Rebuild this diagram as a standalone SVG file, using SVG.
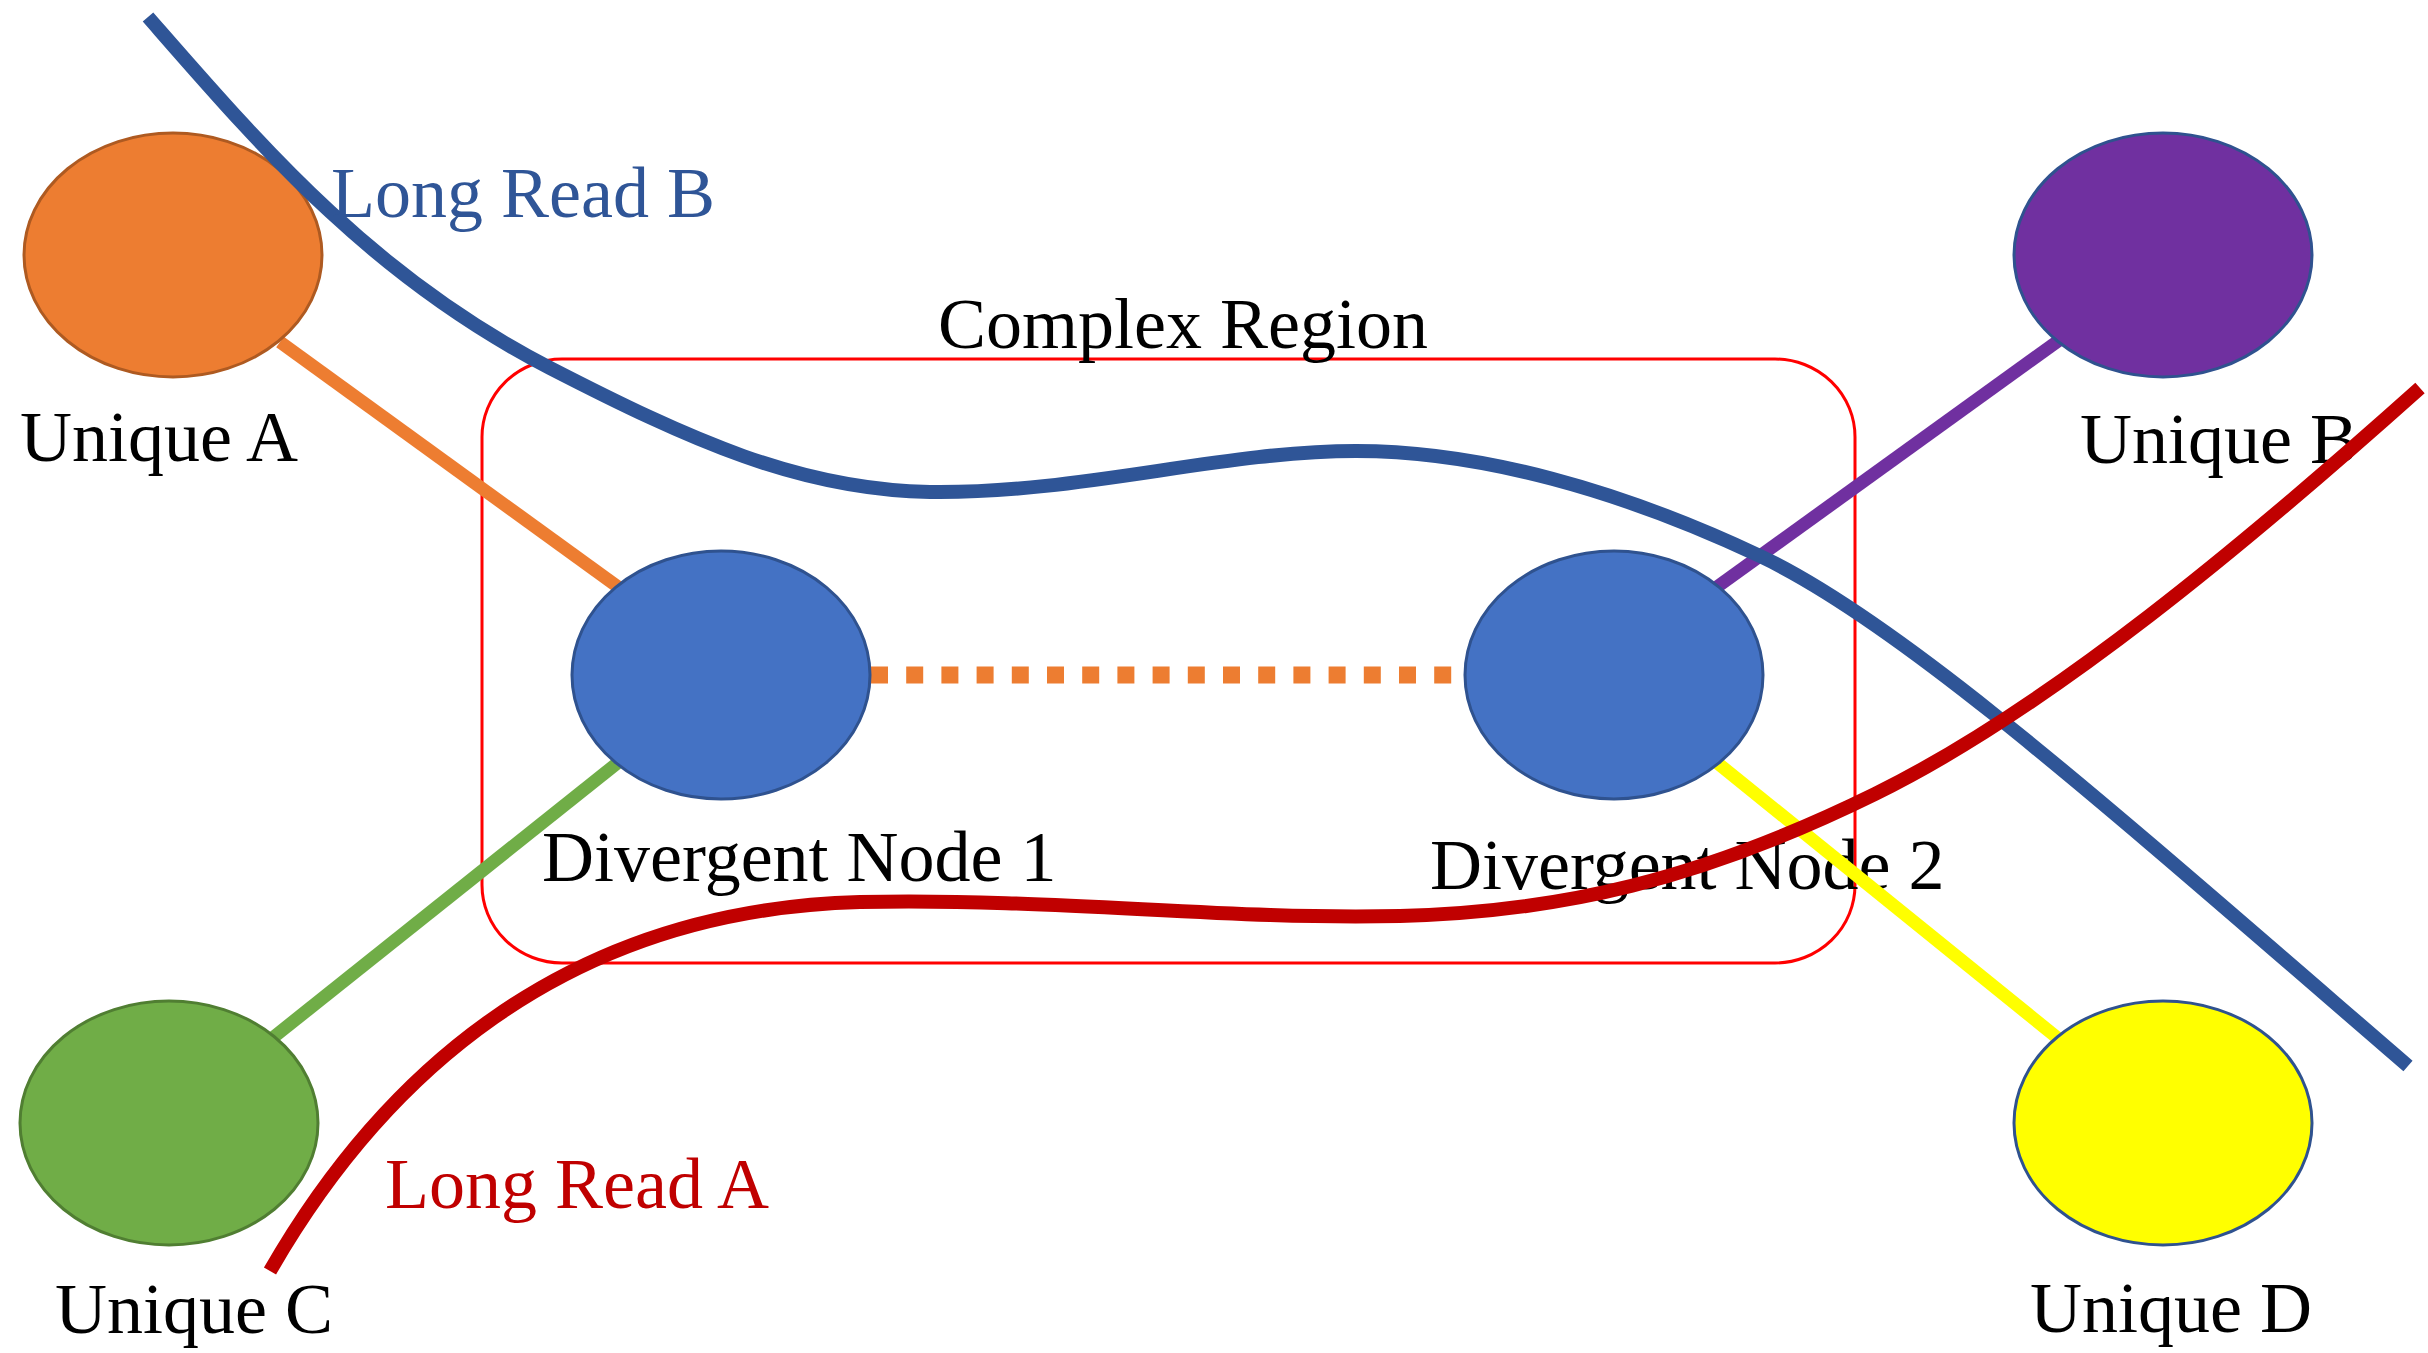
<svg xmlns="http://www.w3.org/2000/svg" width="2428" height="1353" viewBox="0 0 2428 1353">
<style>
.lbl{font-family:"Liberation Serif","Times New Roman",serif;font-size:72px;fill:#000}
.edge{fill:none;stroke-width:13;stroke-linecap:butt}
.read{fill:none;stroke-width:14;stroke-linecap:butt}
.node{stroke-width:3}
</style>
<rect width="2428" height="1353" fill="#fff"/>
<g id="complex-region">
<rect x="482" y="359" width="1373" height="604" rx="80" ry="78" fill="none" stroke="#FF0000" stroke-width="3"/>
<text class="lbl" x="1183" y="348" text-anchor="middle">Complex Region</text>
</g>
<g id="labels">
<text class="lbl" x="20" y="461">Unique A</text>
<text class="lbl" x="2080" y="463">Unique B</text>
<text class="lbl" x="55" y="1333">Unique C</text>
<text class="lbl" x="2030" y="1332">Unique D</text>
<text class="lbl" x="542" y="881">Divergent Node 1</text>
<text class="lbl" x="1430" y="889">Divergent Node 2</text>
</g>
<g id="connectors">
<line class="edge" x1="280" y1="342" x2="625" y2="592" stroke="#ED7D31"/>
<line class="edge" x1="1710" y1="592" x2="2065" y2="336" stroke="#7030A0"/>
<line class="edge" x1="625" y1="757" x2="270" y2="1040" stroke="#70AD47"/>
<line class="edge" x1="1710" y1="757" x2="2065" y2="1044" stroke="#FFFF00"/>
<line x1="871" y1="675" x2="1464" y2="675" stroke="#ED7D31" stroke-width="17" stroke-dasharray="17 18.2"/>
</g>
<g id="unique-a"><ellipse class="node" cx="173" cy="255" rx="149" ry="122" fill="#ED7D31" stroke="#AE5A21"/></g>
<g id="unique-b"><ellipse class="node" cx="2163" cy="255" rx="149" ry="122" fill="#7030A0" stroke="#2F528F"/></g>
<g id="unique-c"><ellipse class="node" cx="169" cy="1123" rx="149" ry="122" fill="#70AD47" stroke="#507E32"/></g>
<g id="unique-d"><ellipse class="node" cx="2163" cy="1123" rx="149" ry="122" fill="#FFFF00" stroke="#2F528F"/></g>
<g id="divergent-node-1"><ellipse class="node" cx="721" cy="675" rx="149" ry="124" fill="#4472C4" stroke="#2F528F"/></g>
<g id="divergent-node-2"><ellipse class="node" cx="1614" cy="675" rx="149" ry="124" fill="#4472C4" stroke="#2F528F"/></g>
<g id="long-read-b">
<path class="read" stroke="#2F5597" d="M148,17 C260,145 370,275 550,368 C690,440 800,490 930,492 C1080,494 1220,451 1356,451 C1480,451 1620,490 1760,556 C1900,622 2100,800 2408,1066"/>
<text class="lbl" x="331" y="217" style="fill:#2F5597">Long Read B</text>
</g>
<g id="long-read-a">
<path class="read" stroke="#C00000" d="M270,1271 C380,1080 560,910 860,902 C1060,898 1220,920 1400,916 C1560,912 1700,880 1875,794 C2050,708 2250,540 2420,388"/>
<text class="lbl" x="385" y="1208" style="fill:#C00000">Long Read A</text>
</g>
</svg>
